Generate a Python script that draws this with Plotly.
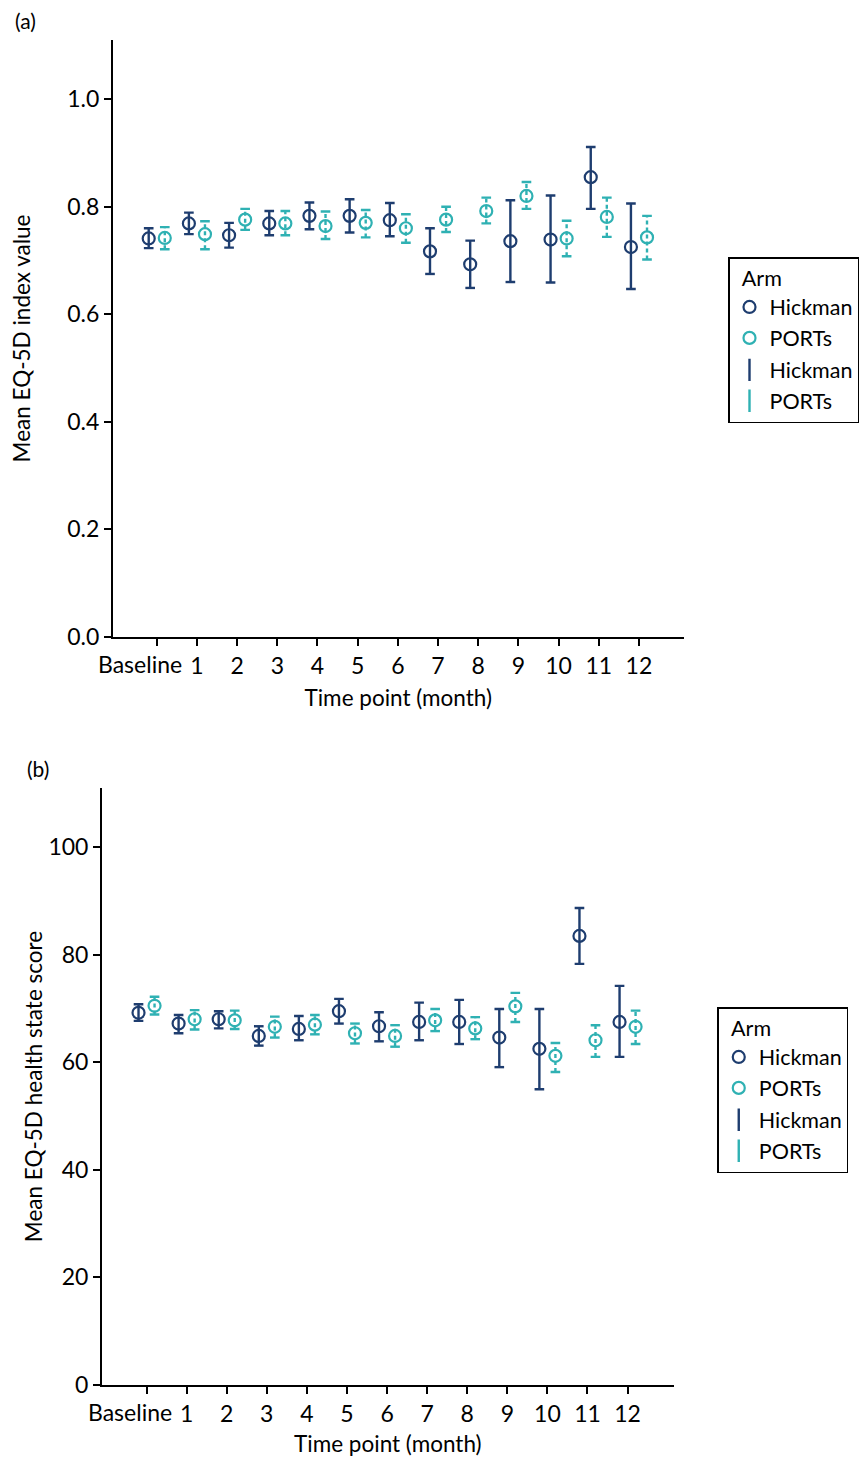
import plotly.graph_objects as go

# ---------------- data ----------------
time_labels = ["Baseline", "1", "2", "3", "4", "5", "6", "7", "8", "9", "10", "11", "12"]
time_idx = list(range(len(time_labels)))

# Panel (a): EQ-5D index value
a_hick_mean = [0.741, 0.769, 0.747, 0.769, 0.783, 0.783, 0.775, 0.717, 0.693, 0.736, 0.739, 0.855, 0.725]
a_hick_hi   = [0.760, 0.789, 0.770, 0.792, 0.808, 0.814, 0.807, 0.760, 0.737, 0.812, 0.821, 0.911, 0.806]
a_hick_lo   = [0.723, 0.749, 0.724, 0.747, 0.758, 0.752, 0.745, 0.675, 0.649, 0.660, 0.659, 0.796, 0.647]
a_port_mean = [0.742, 0.749, 0.776, 0.769, 0.764, 0.770, 0.760, 0.776, 0.792, 0.820, 0.741, 0.781, 0.743]
a_port_hi   = [0.762, 0.773, 0.796, 0.792, 0.791, 0.794, 0.786, 0.800, 0.817, 0.846, 0.774, 0.817, 0.783]
a_port_lo   = [0.721, 0.721, 0.757, 0.747, 0.740, 0.743, 0.733, 0.753, 0.769, 0.796, 0.708, 0.744, 0.702]

# Panel (b): EQ-5D health state score
b_hick_mean = [69.2, 67.2, 68.0, 64.9, 66.2, 69.5, 66.7, 67.5, 67.5, 64.6, 62.5, 83.5, 67.5]
b_hick_hi   = [70.8, 68.8, 69.5, 66.7, 68.6, 71.8, 69.3, 71.1, 71.6, 69.9, 69.9, 88.7, 74.2]
b_hick_lo   = [67.7, 65.4, 66.3, 63.1, 64.1, 67.2, 63.9, 64.1, 63.4, 59.1, 55.0, 78.3, 61.0]
b_port_mean = [70.5, 68.0, 67.8, 66.6, 67.0, 65.4, 64.9, 67.8, 66.3, 70.4, 61.2, 64.1, 66.6]
b_port_hi   = [72.2, 69.7, 69.6, 68.5, 68.8, 67.2, 66.9, 69.9, 68.4, 72.9, 63.6, 66.9, 69.6]
b_port_lo   = [68.9, 66.1, 66.2, 64.6, 65.2, 63.5, 62.9, 65.8, 64.3, 67.5, 58.2, 61.0, 63.4]

# ---------------- style ----------------
HICK = "#1e3d6f"
PORT = "#2fb1b3"
FONT = "Lato, 'Open Sans', sans-serif"
DODGE = 0.2
CAP = 0.12
FS = 22.5
TFS = 23

W, H = 859, 1457


def bar_paths(xs, lo, hi):
    vx, vy, cx, cy = [], [], [], []
    for x, l, h in zip(xs, lo, hi):
        vx += [x, x, None]
        vy += [l, h, None]
        cx += [x - CAP, x + CAP, None, x - CAP, x + CAP, None]
        cy += [l, l, None, h, h, None]
    return vx, vy, cx, cy


fig = go.Figure()

panels = [
    ("x", "y", "legend", a_hick_mean, a_hick_lo, a_hick_hi, a_port_mean, a_port_lo, a_port_hi),
    ("x2", "y2", "legend2", b_hick_mean, b_hick_lo, b_hick_hi, b_port_mean, b_port_lo, b_port_hi),
]

for xa, ya, lg, hm, hl, hh, pm, pl, ph in panels:
    for name, col, mean, lo, hi, off, dash in [
        ("Hickman", HICK, hm, hl, hh, -DODGE, "solid"),
        ("PORTs", PORT, pm, pl, ph, DODGE, "4px,3px"),
    ]:
        xs = [t + off for t in time_idx]
        vx, vy, cx, cy = bar_paths(xs, lo, hi)
        fig.add_trace(go.Scatter(x=vx, y=vy, mode="lines", xaxis=xa, yaxis=ya,
                                 line=dict(color=col, width=2.4, dash=dash),
                                 showlegend=False, hoverinfo="skip"))
        fig.add_trace(go.Scatter(x=cx, y=cy, mode="lines", xaxis=xa, yaxis=ya,
                                 line=dict(color=col, width=2.4),
                                 showlegend=False, hoverinfo="skip"))
    # markers (legend entries)
    for name, col, mean, off in [("Hickman", HICK, hm, -DODGE), ("PORTs", PORT, pm, DODGE)]:
        fig.add_trace(go.Scatter(x=[t + off for t in time_idx], y=mean, mode="markers",
                                 xaxis=xa, yaxis=ya, name=name, legend=lg,
                                 marker=dict(symbol="circle-open", size=12, color=col,
                                             line=dict(width=2.2, color=col)),
                                 legendgroup=lg + "m"))
    # legend-only error bar keys
    for name, col in [("Hickman", HICK), ("PORTs", PORT)]:
        fig.add_trace(go.Scatter(x=[None], y=[None], mode="markers", xaxis=xa, yaxis=ya,
                                 name=name, legend=lg, legendgroup=lg + "e",
                                 marker=dict(symbol="line-ns-open", size=16, color=col,
                                             line=dict(width=2.4, color=col))))

axis_common = dict(showline=True, linecolor="black", linewidth=2, ticks="outside",
                   ticklen=7, tickwidth=1.6, tickcolor="black", showgrid=False,
                   zeroline=False, automargin=False,
                   tickfont=dict(family=FONT, size=TFS, color="black"),
                   title_font=dict(family=FONT, size=FS, color="black"))

legend_common = dict(xanchor="left", yanchor="top",
                     bordercolor="black", borderwidth=1.5, bgcolor="white",
                     title=dict(text="&nbsp;&nbsp;Arm", font=dict(family=FONT, size=21.5)),
                     font=dict(family=FONT, size=21.5), tracegroupgap=1, itemwidth=30)

# tick texts: "Baseline" is drawn as an annotation that ends just right of its tick
ticktext = [""] + time_labels[1:]

fig.update_layout(
    width=W, height=H,
    margin=dict(l=0, r=0, t=0, b=0),
    paper_bgcolor="white", plot_bgcolor="white",
    font=dict(family=FONT, size=FS, color="black"),
    xaxis=dict(domain=[114 / W, 690 / W], range=[-1.09, 13.11], anchor="y",
               tickvals=time_idx, ticktext=ticktext, tickangle=0,
               title=dict(text="Time point (month)", standoff=13), **axis_common),
    yaxis=dict(domain=[1 - 637 / H, 1 - 40 / H], range=[0, 1.11], anchor="x",
               tickvals=[0, 0.2, 0.4, 0.6, 0.8, 1.0],
               ticktext=["0.0", "0.2", "0.4", "0.6", "0.8", "1.0"],
               title=dict(text="Mean EQ-5D index value", standoff=30), **axis_common),
    xaxis2=dict(domain=[103 / W, 680 / W], range=[-1.11, 13.15], anchor="y2",
                tickvals=time_idx, ticktext=ticktext, tickangle=0,
                title=dict(text="Time point (month)", standoff=12), **axis_common),
    yaxis2=dict(domain=[1 - 1385 / H, 1 - 788 / H], range=[0, 111], anchor="x2",
                tickvals=[0, 20, 40, 60, 80, 100],
                title=dict(text="Mean EQ-5D health state score", standoff=0), **axis_common),
    legend=dict(x=735 / W, y=1 - 257 / H, **legend_common),
    legend2=dict(x=724 / W, y=1 - 1007 / H, **legend_common),
    annotations=[
        dict(text="(a)", x=13 / W, y=1 - 20 / H, xref="paper", yref="paper",
             xanchor="left", yanchor="middle", showarrow=False,
             font=dict(family=FONT, size=21, color="black")),
        dict(text="(b)", x=25 / W, y=1 - 768 / H, xref="paper", yref="paper",
             xanchor="left", yanchor="middle", showarrow=False,
             font=dict(family=FONT, size=21, color="black")),
        dict(text=time_labels[0], x=time_idx[0], y=0, xref="x", yref="y",
             xanchor="right", yanchor="top", xshift=27, yshift=-11, showarrow=False,
             font=dict(family=FONT, size=TFS, color="black")),
        dict(text=time_labels[0], x=time_idx[0], y=0, xref="x2", yref="y2",
             xanchor="right", yanchor="top", xshift=27, yshift=-11, showarrow=False,
             font=dict(family=FONT, size=TFS, color="black")),
    ],
)

fig.write_html("out.html")
